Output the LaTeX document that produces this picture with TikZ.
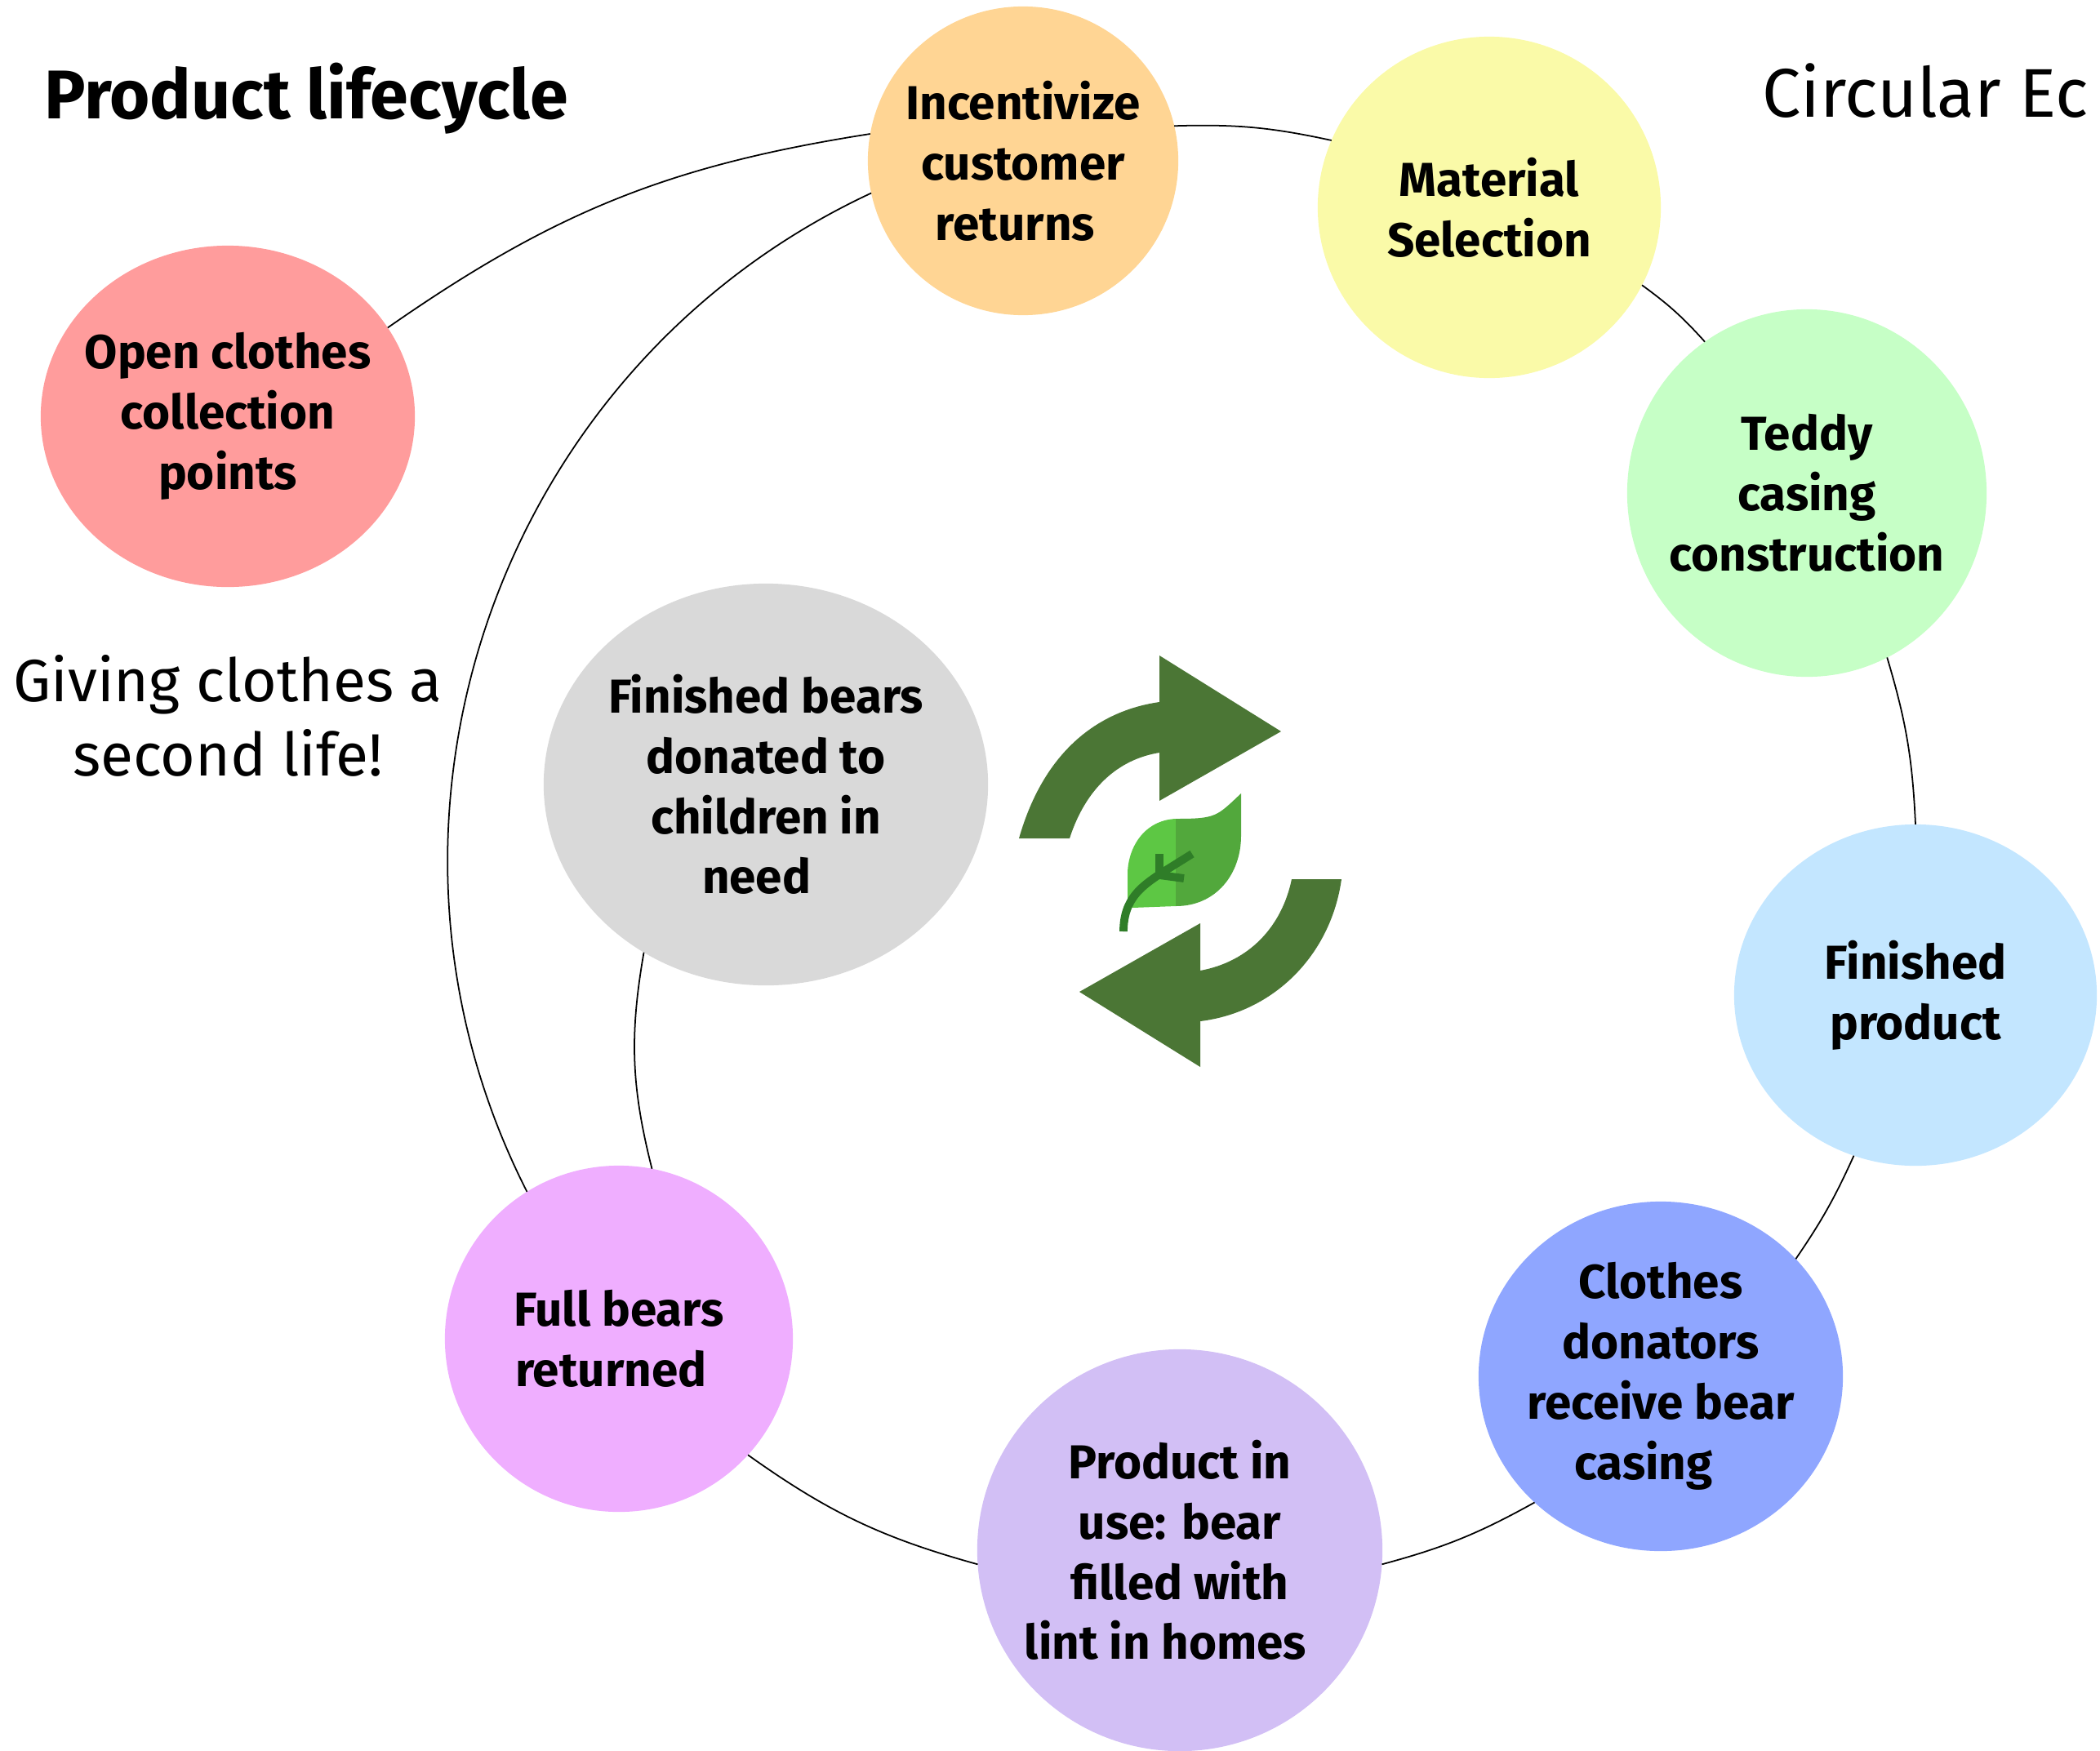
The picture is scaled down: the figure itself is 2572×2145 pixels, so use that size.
\documentclass[tikz,border=0pt]{standalone}
\usepackage{fontspec}
\setmainfont{Fira Sans}
\usetikzlibrary{shapes.geometric}
\definecolor{arrowgreen}{HTML}{4B7635}
\definecolor{leaflight}{HTML}{5DC744}
\definecolor{leafdark}{HTML}{52A83C}
\definecolor{stemgreen}{HTML}{2F7D28}
\tikzset{
	bubble/.style={ellipse, inner sep=-6pt, outer sep=0pt, align=center,
		font=\bfseries\fontsize{16.6}{21}\selectfont},
	ring/.style={black, line width=0.5pt},
	heading/.style={inner sep=0pt, align=center, font=\fontsize{24}{26}\selectfont}
}
\begin{document}
\begin{tikzpicture}[x=0.01cm, y=-0.01cm]
			\useasboundingbox (0, 0) rectangle (2572, 2145);
			\node[heading, font=\bfseries\fontsize{24}{26}\selectfont] (lifecycle) at (375, 121) {Product lifecycle};
			\node[heading, anchor=base west] (circular) at (2158, 143) {Circular Ec};
			\node[heading, font=\fontsize{20.8}{26}\selectfont] (secondlife) at (279, 877) {Giving clothes a\\second life!};
			\node[bubble, fill={rgb,255:red,255;green,156;blue,156}, minimum width=4.58cm, minimum height=4.18cm] (open) at (279, 510) {Open clothes\\collection\\points};
			\node[bubble, fill={rgb,255:red,255;green,213;blue,148}, minimum width=3.8cm, minimum height=3.78cm] (incentivize) at (1253, 197) {Incentivize\\customer\\returns\hspace*{5.5pt}};
			\node[bubble, fill={rgb,255:red,250;green,250;blue,168}, minimum width=4.2cm, minimum height=4.18cm] (material) at (1824, 254) {Material\\Selection};
			\node[bubble, fill={rgb,255:red,198;green,255;blue,198}, minimum width=4.4cm, minimum height=4.5cm] (teddy) at (2213, 604) {Teddy\\casing\\construction};
			\node[bubble, fill={rgb,255:red,195;green,230;blue,255}, minimum width=4.44cm, minimum height=4.18cm] (finished) at (2346, 1219) {Finished\\product};
			\node[bubble, fill={rgb,255:red,143;green,166;blue,255}, minimum width=4.46cm, minimum height=4.28cm] (clothes) at (2034, 1686) {Clothes\\donators\\receive bear\\casing\hspace*{12pt}};
			\node[bubble, fill={rgb,255:red,210;green,191;blue,245}, minimum width=4.96cm, minimum height=4.92cm] (product) at (1445, 1899) {Product in\\use: bear\\filled with\\lint in homes\hspace*{10pt}};
			\node[bubble, fill={rgb,255:red,239;green,174;blue,255}, minimum width=4.26cm, minimum height=4.24cm] (full) at (758, 1640) {Full bears\\returned\hspace*{5.5pt}};
			\node[bubble, fill={rgb,255:red,217;green,217;blue,217}, minimum width=5.44cm, minimum height=4.92cm] (donated) at (938, 961) {Finished bears\\donated to\\children in\\need\hspace*{6.5pt}};
			% ring
			\foreach \a/\aa/\b/\bb/\bend in {open/29/incentivize/170/13, incentivize/13/material/157/7, material/-27/teddy/124/6, teddy/-64/finished/90/7, finished/-111/clothes/41/5, clothes/-135/product/-4/7, product/184/full/-42/10, full/79/donated/234/12, full/122/incentivize/192/46}
				\draw[ring] (\a.\aa) to[bend left=\bend] (\b.\bb);
			% arrows
			\fill[arrowgreen] (1248, 1027) .. controls (1280, 915) and (1350, 870) .. (1420, 860) -- (1420, 803) -- (1569, 896) -- (1420, 981) -- (1420, 922) .. controls (1370, 930) and (1330, 965) .. (1310, 1027) -- cycle;
			\fill[arrowgreen] (1643, 1077) .. controls (1630, 1170) and (1560, 1240) .. (1470, 1251) -- (1470, 1307) -- (1322, 1215) -- (1470, 1131) -- (1470, 1189) .. controls (1530, 1178) and (1570, 1135) .. (1582, 1077) -- cycle;
			% leaf
			\fill[leaflight] (1440, 1003) .. controls (1400, 1005) and (1381, 1040) .. (1381, 1071) -- (1381, 1104) -- (1387, 1112) -- (1440, 1110) -- cycle;
			\fill[leafdark] (1440, 1003) .. controls (1490, 1003) and (1490, 1000) .. (1520, 972) -- (1520, 1024) .. controls (1520, 1070) and (1490, 1110) .. (1440, 1110) -- cycle;
			\draw[stemgreen, line width=2.8pt] (1376, 1141) .. controls (1376, 1100) and (1400, 1085) .. (1420, 1071) -- (1460, 1046);
			\draw[stemgreen, line width=2.8pt] (1420, 1046) -- (1420, 1072) -- (1450, 1076);
\end{tikzpicture}
\end{document}
